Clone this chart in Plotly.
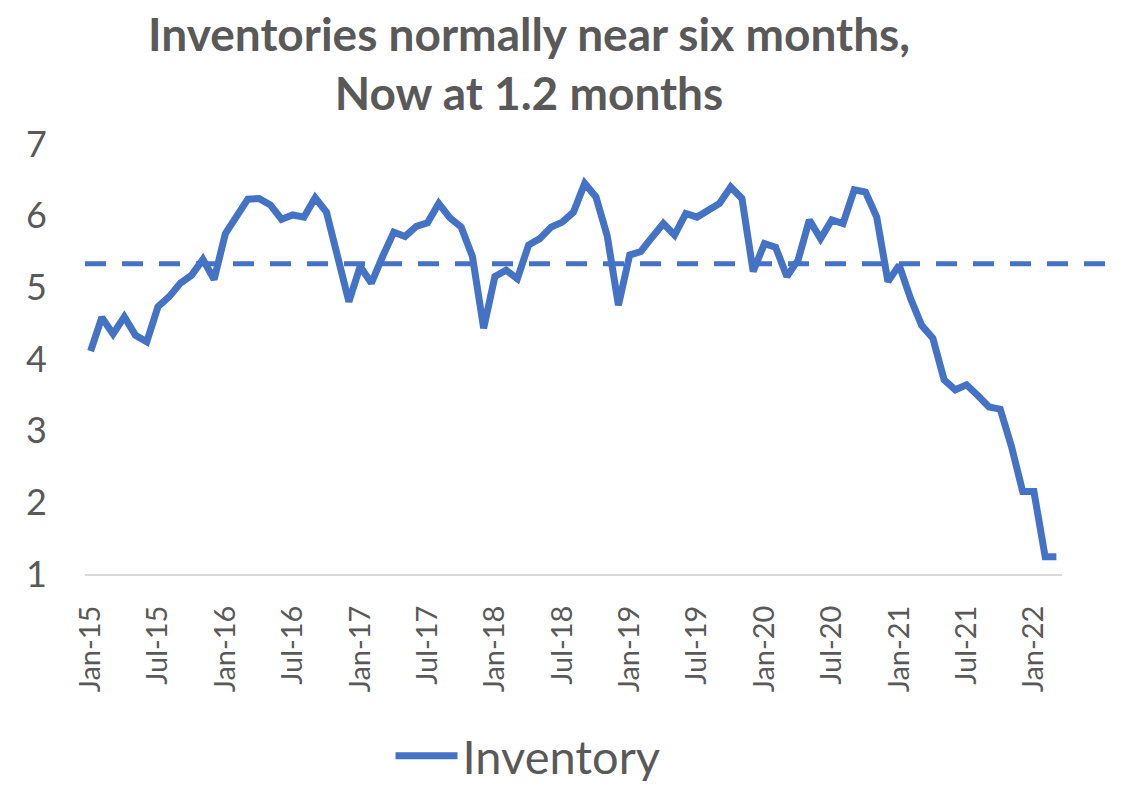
import plotly.graph_objects as go

months = ["Jan", "Feb", "Mar", "Apr", "May", "Jun", "Jul", "Aug", "Sep", "Oct", "Nov", "Dec"]
categories = [f"{m}-{y:02d}" for y in range(15, 23) for m in months][:87]

inventory = [
    4.11, 4.58, 4.35, 4.59, 4.33, 4.24, 4.73, 4.87, 5.06, 5.17, 5.39, 5.11,
    5.75, 5.99, 6.23, 6.24, 6.15, 5.95, 6.01, 5.98, 6.25, 6.05, 5.45, 4.80,
    5.29, 5.06, 5.43, 5.77, 5.71, 5.85, 5.90, 6.17, 5.97, 5.84, 5.43, 4.43,
    5.15, 5.24, 5.12, 5.59, 5.68, 5.84, 5.91, 6.05, 6.45, 6.26, 5.72, 4.75,
    5.45, 5.50, 5.70, 5.89, 5.73, 6.03, 5.98, 6.08, 6.17, 6.40, 6.24, 5.22,
    5.61, 5.56, 5.15, 5.38, 5.94, 5.68, 5.94, 5.89, 6.36, 6.33, 5.98, 5.08,
    5.31, 4.85, 4.47, 4.29, 3.71, 3.57, 3.64, 3.49, 3.33, 3.30, 2.78, 2.15,
    2.15, 1.24, 1.24,
]

normal_level = 5.33
tick_labels = categories[::6]
y_ticks = [1, 2, 3, 4, 5, 6, 7]

BLUE = "#4472C4"
GRAY = "#595959"
FONT = "Lato"

fig = go.Figure()
fig.add_trace(go.Scatter(
    x=categories, y=inventory, mode="lines", name="Inventory",
    line=dict(color=BLUE, width=7, shape="linear"),
))

fig.add_shape(type="line", xref="paper", yref="y", x0=0.0, x1=1.054,
              y0=normal_level, y1=normal_level,
              line=dict(color=BLUE, width=5, dash="21px,16px"))

fig.update_layout(
    width=1114, height=773,
    paper_bgcolor="white", plot_bgcolor="white",
    margin=dict(l=77, r=60, t=136, b=207, autoexpand=False),
    title=dict(
        text="<b>Inventories normally near six months,<br>Now at 1.2 months</b>",
        x=0.4677, xanchor="center", xref="container",
        y=0.945, yanchor="top", yref="container",
        font=dict(family=FONT, size=46, color=GRAY),
    ),
    showlegend=True,
    legend=dict(
        orientation="h", xref="container", yref="container",
        x=0.4668, xanchor="center", y=0.032, yanchor="middle",
        itemwidth=62,
        font=dict(family=FONT, size=47, color=GRAY),
        bgcolor="rgba(0,0,0,0)",
    ),
    xaxis=dict(
        type="category", categoryorder="array", categoryarray=categories,
        range=[-0.5, len(categories) - 0.5], automargin=False,
        tickmode="array", tickvals=tick_labels, ticktext=tick_labels,
        tickangle=-90, ticks="", showgrid=False, zeroline=False,
        showline=True, linecolor="#D9D9D9", linewidth=2,
        tickfont=dict(family=FONT, size=29, color=GRAY),
        ticklabelstandoff=18,
    ),
    yaxis=dict(
        range=[1, 7], tickmode="array", tickvals=y_ticks, automargin=False,
        showgrid=False, zeroline=False, showline=False, ticks="",
        tickfont=dict(family=FONT, size=36, color=GRAY),
        ticklabelstandoff=37,
    ),
)

fig.write_html("out.html")
